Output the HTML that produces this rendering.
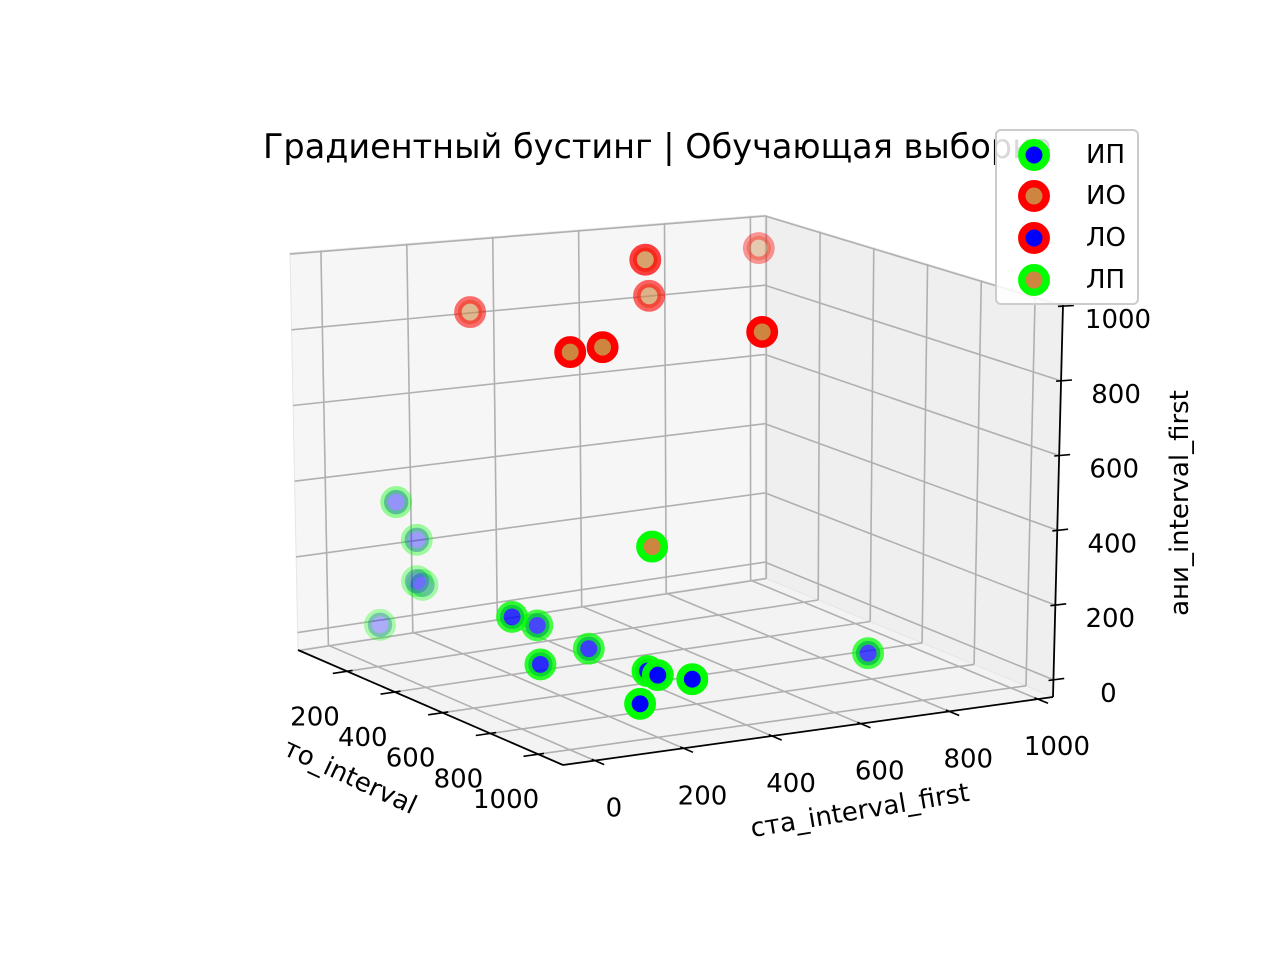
<!DOCTYPE html>
<html><head><meta charset="utf-8"><style>
html,body{margin:0;padding:0;background:#fff;}
svg{display:block;font-family:"DejaVu Sans","Liberation Sans",sans-serif;}
</style></head><body>
<svg id="chart" width="1280" height="960" viewBox="0 0 1280 960" xmlns="http://www.w3.org/2000/svg">
<g id="panes"></g>
<g id="grid"></g>
<g id="axes"></g>
<g id="points"></g>
<text x="263" y="158" font-size="33.5" fill="#000">Градиентный бустинг | Обучающая выборка</text>
<text x="350" y="777" font-size="26" text-anchor="middle" dominant-baseline="central" transform="rotate(25 350 777)">то_interval</text>
<text x="860" y="811" font-size="26" text-anchor="middle" dominant-baseline="central" transform="rotate(-9.5 860 811)">ста_interval_first</text>
<text x="1180" y="503" font-size="26" text-anchor="middle" dominant-baseline="central" transform="rotate(-90 1180 503)">ани_interval_first</text>
<g>
  <rect x="996" y="130" width="142" height="174" rx="5" fill="#fff" fill-opacity="0.85" stroke="#cccccc" stroke-width="2"/>
  <g><circle cx="1034" cy="155" r="12.2" fill="#0000ff" stroke="#00ff00" stroke-width="7.5"/><text x="1086" y="155" font-size="26" dominant-baseline="central">ИП</text></g>
  <g><circle cx="1034" cy="196" r="12.2" fill="#cd853f" stroke="#ff0000" stroke-width="7.5"/><text x="1086" y="196" font-size="26" dominant-baseline="central">ИО</text></g>
  <g><circle cx="1034" cy="238" r="12.2" fill="#0000ff" stroke="#ff0000" stroke-width="7.5"/><text x="1086" y="238" font-size="26" dominant-baseline="central">ЛО</text></g>
  <g><circle cx="1034" cy="280" r="12.2" fill="#cd853f" stroke="#00ff00" stroke-width="7.5"/><text x="1086" y="280" font-size="26" dominant-baseline="central">ЛП</text></g>
</g>
</svg>
<script>
// ---- data ----
const ipX=[1043,912,847,807,583,650,572,506,683,50,50,50,50,28];
const ipY=[135,326,284,283,275,126,105,200,860,134,181,180,193,104];
const ipZ=[59,59,59,59,59,59,164,111,-20,329,221,110,98,0];
const ioX=[1049,1049,993,340,217,28,106];
const ioY=[-28,44,431,547,629,999,280];
const ioZ=[948,955,954,1000,867,919,834];
const loX=[];
const loY=[];
const loZ=[];
const lpX=[993];
const lpY=[188];
const lpZ=[433];
const xTicks=[0,200,400,600,800,1000];
const yTicks=[0,200,400,600,800,1000];
const zTicks=[0,200,400,600,800,1000];
const xTickLabels=["","200","400","600","800","1000"];
const yTickLabels=["0","200","400","600","800","1000"];
const zTickLabels=["0","200","400","600","800","1000"];

const XMIN=-5,XMAX=1104,YMIN=-72,YMAX=1034,ZMIN=-46,ZMAX=1003;
const L0=[298,650],F0=[563,765],R0=[1053,697],B0=[765,578];
const L1=[290,253],F1=[564,335],R1=[1063,305],B1=[765,215];
function bil(a,b,c,d,u,v,i){return a[i]*(1-u)*(1-v)+b[i]*u*(1-v)+c[i]*u*v+d[i]*(1-u)*v;}
function proj(x,y,z){
  const u=(x-XMIN)/(XMAX-XMIN),v=(y-YMIN)/(YMAX-YMIN),w=(z-ZMIN)/(ZMAX-ZMIN);
  const bx=bil(L0,F0,R0,B0,u,v,0),by=bil(L0,F0,R0,B0,u,v,1);
  const tx=bil(L1,F1,R1,B1,u,v,0),ty=bil(L1,F1,R1,B1,u,v,1);
  return [bx+(tx-bx)*w,by+(ty-by)*w];
}
function depth(x,y,z){
  const u=(x-XMIN)/(XMAX-XMIN),v=(y-YMIN)/(YMAX-YMIN),w=(z-ZMIN)/(ZMAX-ZMIN);
  return u-0.2*v+0.3*w;
}
const NS="http://www.w3.org/2000/svg";
function mk(tag,parent,attrs){const e=document.createElementNS(NS,tag);for(const k in attrs)e.setAttribute(k,attrs[k]);parent.appendChild(e);return e;}
function seg(parent,p,q,stroke,w){return mk('line',parent,{x1:p[0].toFixed(1),y1:p[1].toFixed(1),x2:q[0].toFixed(1),y2:q[1].toFixed(1),stroke:stroke,'stroke-width':w});}
function poly(parent,pts,fill){return mk('polygon',parent,{points:pts.map(p=>p[0].toFixed(1)+','+p[1].toFixed(1)).join(' '),fill:fill,stroke:'#e6e6e6','stroke-width':1});}

const panes=document.getElementById('panes');
let pn;
pn=poly(panes,[proj(XMIN,YMIN,ZMIN),proj(XMIN,YMAX,ZMIN),proj(XMIN,YMAX,ZMAX),proj(XMIN,YMIN,ZMAX)],'#f6f6f6');


pn=poly(panes,[proj(XMIN,YMAX,ZMIN),proj(XMAX,YMAX,ZMIN),proj(XMAX,YMAX,ZMAX),proj(XMIN,YMAX,ZMAX)],'#efefef');


pn=poly(panes,[proj(XMIN,YMIN,ZMIN),proj(XMAX,YMIN,ZMIN),proj(XMAX,YMAX,ZMIN),proj(XMIN,YMAX,ZMIN)],'#f3f3f3');



const grid=document.getElementById('grid');
const GC='#b0b0b0',GW=1.6;
let g;
xTicks.forEach(x=>{
  g=seg(grid,proj(x,YMIN,ZMIN),proj(x,YMAX,ZMIN),GC,GW);
  
  
  g=seg(grid,proj(x,YMAX,ZMIN),proj(x,YMAX,ZMAX),GC,GW);
  
  
});
yTicks.forEach(y=>{
  g=seg(grid,proj(XMIN,y,ZMIN),proj(XMAX,y,ZMIN),GC,GW);
  
  
  g=seg(grid,proj(XMIN,y,ZMIN),proj(XMIN,y,ZMAX),GC,GW);
  
  
});
zTicks.forEach(z=>{
  g=seg(grid,proj(XMIN,YMIN,z),proj(XMIN,YMAX,z),GC,GW);
  
  
  g=seg(grid,proj(XMIN,YMAX,z),proj(XMAX,YMAX,z),GC,GW);
  
  
});

const axes=document.getElementById('axes');
let a;
a=seg(axes,proj(XMIN,YMIN,ZMIN),proj(XMAX,YMIN,ZMIN),'#000',1.8);


a=seg(axes,proj(XMAX,YMIN,ZMIN),proj(XMAX,YMAX,ZMIN),'#000',1.8);


a=seg(axes,proj(XMAX,YMAX,ZMIN),proj(XMAX,YMAX,ZMAX),'#000',1.8);


const YR=YMAX-YMIN,XR=XMAX-XMIN;
function label(txt,x,y,anchor){const t=mk('text',axes,{x:x.toFixed(1),y:y.toFixed(1),'font-size':26,'text-anchor':anchor,'dominant-baseline':'central'});t.textContent=txt;return t;}
xTicks.forEach((x,i)=>{
  if(!xTickLabels[i])return;
  const p=proj(x,YMIN,ZMIN);
  a=seg(axes,proj(x,YMIN+0.012*YR,ZMIN),proj(x,YMIN-0.03*YR,ZMIN),'#000',1.6);
  
  
  a=label(xTickLabels[i],p[0]-32,p[1]+46,'middle');
  
  
});
yTicks.forEach((y,i)=>{
  const p=proj(XMAX,y,ZMIN);
  a=seg(axes,proj(XMAX-0.012*XR,y,ZMIN),proj(XMAX+0.035*XR,y,ZMIN),'#000',1.6);
  
  
  a=label(yTickLabels[i],p[0]+19,p[1]+48,'middle');
  
  
});
zTicks.forEach((z,i)=>{
  const p=proj(XMAX,YMAX,z);
  a=seg(axes,proj(XMAX,YMAX-0.01*YR,z),proj(XMAX,YMAX+0.022*YR,z),'#000',1.6);
  
  
  a=label(zTickLabels[i],p[0]+55,p[1]+14,'middle');
  
  
});

const series=[
  {name:'ip',X:ipX,Y:ipY,Z:ipZ,face:'#0000ff',edge:'#00ff00'},
  {name:'io',X:ioX,Y:ioY,Z:ioZ,face:'#cd853f',edge:'#ff0000'},
  {name:'lo',X:loX,Y:loY,Z:loZ,face:'#0000ff',edge:'#ff0000'},
  {name:'lp',X:lpX,Y:lpY,Z:lpZ,face:'#cd853f',edge:'#00ff00'}
];
const all=[];
series.forEach(s=>{s.X.forEach((x,i)=>{all.push({s:s,x:x,y:s.Y[i],z:s.Z[i],d:depth(x,s.Y[i],s.Z[i])});});});
let dmin=Infinity,dmax=-Infinity;
all.forEach(p=>{dmin=Math.min(dmin,p.d);dmax=Math.max(dmax,p.d);});
all.sort((p,q)=>p.d-q.d);
const pg=document.getElementById('points');
all.forEach(p=>{
  const sp=proj(p.x,p.y,p.z);
  const nrm=dmax>dmin?(p.d-dmin)/(dmax-dmin):1;
  const al=0.3+0.7*Math.min(1,nrm*1.6);
  const c=mk('circle',pg,{cx:sp[0].toFixed(1),cy:sp[1].toFixed(1),r:12.2,fill:p.s.face,'fill-opacity':al.toFixed(3),stroke:p.s.edge,'stroke-opacity':al.toFixed(3),'stroke-width':7.5});
  
  
});
</script>
</body></html>
